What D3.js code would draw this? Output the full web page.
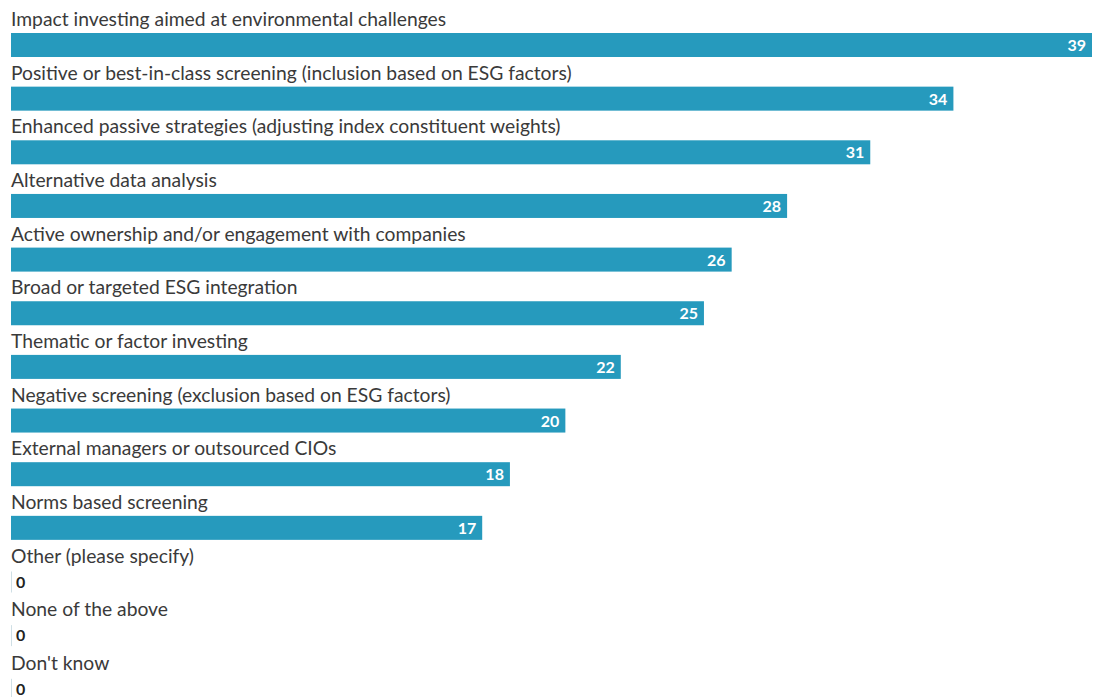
<!DOCTYPE html>
<html>
<head>
<meta charset="utf-8">
<script src="https://cdn.jsdelivr.net/npm/d3@7"></script>
<style>
  html, body { margin: 0; padding: 0; background: #ffffff; }
  svg { display: block; }
</style>
</head>
<body>
<svg id="chart" width="1104" height="697"></svg>
<script>
// Survey responses: share of respondents (%) by ESG approach
const categories = [
  "Impact investing aimed at environmental challenges",
  "Positive or best-in-class screening (inclusion based on ESG factors)",
  "Enhanced passive strategies (adjusting index constituent weights)",
  "Alternative data analysis",
  "Active ownership and/or engagement with companies",
  "Broad or targeted ESG integration",
  "Thematic or factor investing",
  "Negative screening (exclusion based on ESG factors)",
  "External managers or outsourced CIOs",
  "Norms based screening",
  "Other (please specify)",
  "None of the above",
  "Don't know"
];
const values = [39, 34, 31, 28, 26, 25, 22, 20, 18, 17, 0, 0, 0];

const svg = d3.select("#chart");
const left = 11, right = 1092;
const top0 = 33, pitch = 53.65, barH = 24;

const x = d3.scaleLinear().domain([0, d3.max(values)]).range([left, right]);
const y = d3.scaleLinear().domain([0, categories.length]).range([top0, top0 + pitch * categories.length]);

const fontFamily = "Lato, 'Open Sans', sans-serif";

const rows = svg.selectAll("g.row")
  .data(categories.map((c, i) => ({ c, v: values[i], i })))
  .join("g")
  .attr("class", "row")
  .attr("transform", d => `translate(0,${y(d.i)})`);

// category label above each bar
rows.append("text")
  .attr("x", left)
  .attr("y", -7)
  .attr("font-family", fontFamily)
  .attr("font-size", 19.3)
  .attr("fill", "#3a3a3a")
  .text(d => d.c);

// bars
rows.filter(d => d.v > 0).append("rect")
  .attr("x", x(0))
  .attr("y", 0)
  .attr("width", d => x(d.v) - x(0))
  .attr("height", barH)
  .attr("fill", "#269abd");

// zero-value baseline tick
rows.filter(d => d.v === 0).append("line")
  .attr("x1", x(0) + 0.5).attr("x2", x(0) + 0.5)
  .attr("y1", 2).attr("y2", barH - 1)
  .attr("stroke", "#cfdfe5")
  .attr("stroke-width", 1);

// value labels
rows.append("text")
  .attr("x", d => d.v > 0 ? x(d.v) - 6 : x(0) + 5)
  .attr("y", 18)
  .attr("text-anchor", d => d.v > 0 ? "end" : "start")
  .attr("font-family", fontFamily)
  .attr("font-size", 16)
  .attr("font-weight", "bold")
  .attr("fill", d => d.v > 0 ? "#ffffff" : "#222222")
  .text(d => d.v);
</script>
</body>
</html>
